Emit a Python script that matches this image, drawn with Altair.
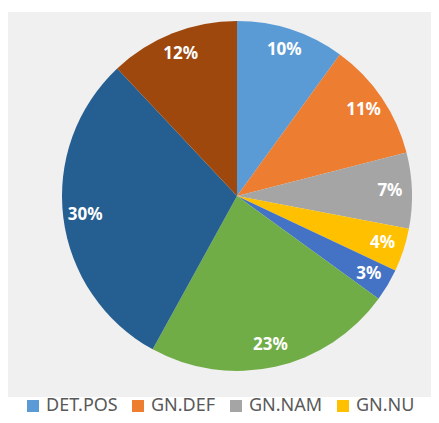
import altair as alt
import pandas as pd

categories = ["DET.POS", "GN.DEF", "GN.NAM", "GN.NU", "Catégorie 5", "Catégorie 6", "Catégorie 7", "Catégorie 8"]
values = [10, 11, 7, 4, 3, 23, 30, 12]
colors = ["#5B9BD5", "#ED7D31", "#A5A5A5", "#FFC000", "#4472C4", "#70AD47", "#255E91", "#9E480E"]
legend_shown = ["DET.POS", "GN.DEF", "GN.NAM", "GN.NU"]

df = pd.DataFrame({
    "cat": categories,
    "val": values,
    "idx": list(range(len(categories))),
    "label": [f"{v}%" for v in values],
})

CX, CY = 229, 184
R = 175

base = alt.Chart(df).encode(
    theta=alt.Theta("val:Q", stack=True),
    order=alt.Order("idx:Q", sort="ascending"),
)

arcs = base.mark_arc(outerRadius=R).encode(
    x=alt.value(CX),
    y=alt.value(CY),
    color=alt.Color(
        "cat:N",
        scale=alt.Scale(domain=categories, range=colors),
        sort=categories,
        legend=alt.Legend(
            values=legend_shown,
            title=None,
            orient="none",
            legendX=16,
            legendY=385,
            direction="horizontal",
            columns=4,
            symbolType="square",
            symbolSize=144,
            symbolStrokeWidth=0,
            labelFontSize=18,
            labelFont="Noto Sans",
            labelColor="#595959",
            columnPadding=11,
            labelOffset=4,
        ),
    ),
)

texts = base.mark_text(
    radius=153, font="Noto Sans", fontSize=17, fontWeight="bold", color="white"
).encode(
    x=alt.value(CX),
    y=alt.value(CY),
    text="label:N",
)

chart = (
    alt.layer(arcs, texts)
    .properties(
        width=423,
        height=385,
        padding={"left": 0, "top": 4, "right": 0, "bottom": 18},
        autosize=alt.AutoSizeParams(type="none"),
        background="white",
    )
    .configure_view(fill="#f0f0f0", stroke=None)
)

chart.save("out.html", embed_options={"renderer": "svg", "actions": False})
